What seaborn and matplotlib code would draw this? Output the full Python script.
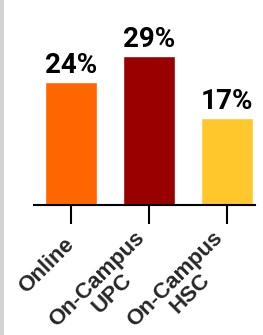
import seaborn as sns
import matplotlib.pyplot as plt
import matplotlib.patches as patches
import pandas as pd

# Data
categories = ["Online", "On-Campus\nUPC", "On-Campus\nHSC"]
shares = [24, 29, 17]
colors = ["#FF6600", "#990000", "#FFC72C"]

df = pd.DataFrame({"campus": categories, "share": shares})

sns.set_style("white")

fig = plt.figure(figsize=(2.63, 3.35), dpi=100)
ax = fig.add_axes([34 / 263, 130 / 335, 221 / 263, 185 / 335])

sns.barplot(data=df, x="campus", y="share", hue="campus", palette=colors,
            width=0.667, saturation=1, legend=False, ax=ax)

ax.set_ylim(0, 185 / 5.13)
ax.set_xlim(-0.474, 2.36)

# Value labels above bars
for i, v in enumerate(shares):
    ax.annotate(f"{v}%", (i, v), xytext=(0, 6.5), textcoords="offset points",
                ha="center", va="baseline", fontsize=20, fontweight="bold",
                family="Roboto", color="black")

# Axes styling
for side in ["top", "right", "left"]:
    ax.spines[side].set_visible(False)
ax.spines["bottom"].set_linewidth(1.5)
ax.spines["bottom"].set_color("black")
ax.set_yticks([])
ax.set_xlabel("")
ax.set_ylabel("")
ax.tick_params(axis="x", direction="out", length=13.5, width=1.5, color="black",
               bottom=True, pad=13)
ax.set_xticks(range(len(categories)))
ax.set_xticklabels(categories, rotation=45, ha="right", va="center",
                   rotation_mode="anchor", ma="center", fontsize=16,
                   fontweight="bold", family="Liberation Sans", linespacing=1.0)

# Light gray strip along the left edge
fig.patches.append(patches.Rectangle((0, 0), 3.5 / 263, 1, transform=fig.transFigure,
                                     facecolor="#d3d3d3", edgecolor="none"))

fig.savefig("out.png", dpi=100)
